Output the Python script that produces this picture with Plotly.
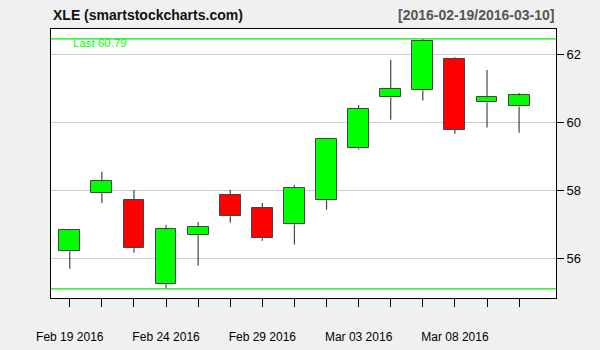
import plotly.graph_objects as go

dates = ["Feb 19 2016", "Feb 22 2016", "Feb 23 2016", "Feb 24 2016", "Feb 25 2016",
         "Feb 26 2016", "Feb 29 2016", "Mar 01 2016", "Mar 02 2016", "Mar 03 2016",
         "Mar 04 2016", "Mar 07 2016", "Mar 08 2016", "Mar 09 2016", "Mar 10 2016"]
opens  = [56.22, 57.92, 57.71, 55.25, 56.69, 57.86, 57.48, 57.01, 57.71, 59.24, 60.74, 60.94, 61.87, 60.59, 60.47]
highs  = [56.86, 58.55, 58.02, 56.99, 57.08, 58.02, 57.64, 58.16, 59.53, 60.51, 61.83, 62.45, 61.91, 61.54, 60.86]
lows   = [55.71, 57.64, 56.18, 55.12, 55.80, 57.06, 56.53, 56.42, 57.44, 59.20, 60.08, 60.64, 59.67, 59.85, 59.70]
closes = [56.83, 58.27, 56.31, 56.86, 56.92, 57.25, 56.60, 58.07, 59.51, 60.39, 60.97, 62.38, 59.78, 60.74, 60.79]
label_every = 3
yticks = [56, 58, 60, 62]

idx = list(range(len(dates)))
tops = [max(o, c) for o, c in zip(opens, closes)]
bots = [min(o, c) for o, c in zip(opens, closes)]
colors = ["#00ff00" if c >= o else "#ff0000" for o, c in zip(opens, closes)]

wx, wy = [], []
for i in idx:
    wx += [i, i, None, i, i, None]
    wy += [highs[i], tops[i], None, bots[i], lows[i], None]

fig = go.Figure()
fig.add_trace(go.Bar(x=idx, y=[t - b for t, b in zip(tops, bots)], base=bots, width=0.65,
                     marker=dict(color=colors, line=dict(color="#444444", width=1)),
                     hoverinfo="skip"))
fig.add_trace(go.Scatter(x=wx, y=wy, mode="lines", line=dict(color="#444444", width=1.2),
                         hoverinfo="skip"))

for v in (max(highs), min(lows)):
    fig.add_shape(type="line", xref="paper", x0=0, x1=1, yref="y", y0=v, y1=v,
                  line=dict(color="#00ee00", width=1.3))

fig.add_annotation(xref="paper", yref="paper", x=0.04, y=0.948, xanchor="left", yanchor="middle",
                   text="Last %.2f" % closes[-1], showarrow=False,
                   font=dict(color="#00ff00", size=11.5, family="Liberation Sans"))
fig.add_annotation(xref="paper", yref="paper", x=0, y=1.052, xanchor="left", yanchor="middle",
                   text="<b>XLE (smartstockcharts.com)</b>", showarrow=False,
                   font=dict(color="#111111", size=14, family="Liberation Sans"))
fig.add_annotation(xref="paper", yref="paper", x=1, y=1.052, xanchor="right", yanchor="middle",
                   text="<b>[%s/%s]</b>" % ("2016-02-19", "2016-03-10"), showarrow=False,
                   font=dict(color="#555555", size=14, family="Liberation Sans"))

ticktext = [d if i % label_every == 0 else "" for i, d in enumerate(dates)]

fig.update_layout(
    width=600, height=350, margin=dict(l=51, r=44, t=29, b=52, autoexpand=False),
    paper_bgcolor="#f0f0f0", plot_bgcolor="#ffffff", showlegend=False,
    font=dict(family="Liberation Sans", color="#000000"),
    xaxis=dict(range=[-0.585, 15.15], tickvals=idx, ticktext=ticktext, ticks="outside",
               ticklen=8, tickcolor="#000000", showgrid=False, zeroline=False,
               showline=True, linecolor="#000000", linewidth=1, mirror=True,
               tickfont=dict(size=12), ticklabelstandoff=20, automargin=False),
    yaxis=dict(range=[54.85, 62.74], side="right", tickvals=yticks, ticks="outside",
               ticklen=7, tickcolor="#000000", showgrid=True, gridcolor="#cccccc",
               zeroline=False, showline=True, linecolor="#000000", linewidth=1, mirror=True,
               tickfont=dict(size=13), automargin=False),
    bargap=0,
)

fig.write_html("out.html")
